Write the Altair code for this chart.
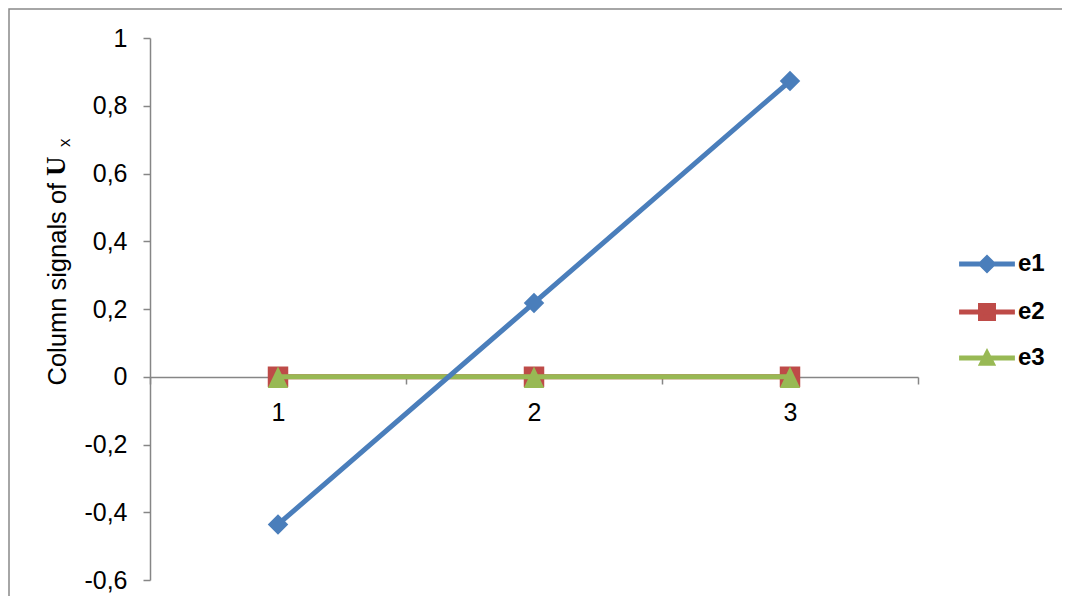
import altair as alt
import pandas as pd

# ---- data ----
categories = [1, 2, 3]
e1_values = [-0.436, 0.218, 0.873]
e2_values = [0.0, 0.0, 0.0]
e3_values = [0.0, 0.0, 0.0]
series_names = ["e1", "e2", "e3"]
series_colors = ["#4A7EBB", "#BE4B48", "#98B954"]
y_tick_values = [-0.6, -0.4, -0.2, 0, 0.2, 0.4, 0.6, 0.8, 1]
x_tick_values = [0.5, 1, 1.5, 2, 2.5, 3, 3.5]

rows = []
for name, vals in zip(series_names, [e1_values, e2_values, e3_values]):
    for c, v in zip(categories, vals):
        rows.append({"series": name, "x": c, "value": v})
df = pd.DataFrame(rows)

FONT = "Liberation Sans"
GRAY = "#868686"

x_enc = alt.X(
    "x:Q",
    scale=alt.Scale(domain=[0.5, 3.5], nice=False, zero=False),
    axis=alt.Axis(
        values=x_tick_values,
        labelExpr="datum.value % 1 == 0 ? toString(datum.value) : ''",
        tickOpacity={"condition": {"test": "datum.value % 1 == 0", "value": 0}, "value": 1},
        offset=-203,
        title=None,
        grid=False,
        tickSize=7,
        tickWidth=1.5,
        tickColor=GRAY,
        domainColor=GRAY,
        domainWidth=1.5,
        labelFont=FONT,
        labelFontSize=25,
        labelColor="black",
        labelPadding=16,
        labelOverlap=False,
        labelFlush=False,
        zindex=0,
    ),
)
y_enc = alt.Y(
    "value:Q",
    scale=alt.Scale(domain=[-0.6, 1], nice=False, zero=False),
    axis=alt.Axis(
        values=y_tick_values,
        labelExpr="replace(toString(datum.value), '.', ',')",
        grid=False,
        tickSize=7,
        tickWidth=1.5,
        tickColor=GRAY,
        domainColor=GRAY,
        domainWidth=1.5,
        labelFont=FONT,
        labelFontSize=25,
        labelColor="black",
        labelPadding=16,
        labelOverlap=False,
        labelFlush=False,
        title="Column signals of",
        titleFont=FONT,
        titleFontSize=25.5,
        titleFontWeight="normal",
        titleColor="black",
        titleAngle=270,
        titleX=-85,
        titleY=347,
        titleAlign="left",
        titleBaseline="alphabetic",
        zindex=0,
    ),
)

base = alt.Chart(df)

def series_layers(name, color, shape):
    sub = base.transform_filter(alt.datum.series == name)
    line = sub.mark_line(color=color, strokeWidth=5).encode(x=x_enc, y=y_enc)
    pts = sub.mark_point(shape=shape, filled=True, size=420, color=color, opacity=1).encode(x=x_enc, y=y_enc)
    return [line, pts]

tri_path = "M0,-1L1,1.1H-1Z"
layers = []

border = alt.Chart(pd.DataFrame({"b": [0]})).mark_rect(
    fill="transparent", stroke="#898989", strokeWidth=1.5
).encode(x=alt.value(-141), x2=alt.value(2000), y=alt.value(-29), y2=alt.value(2000))
layers.append(border)

layers += series_layers("e2", series_colors[1], "square")
layers += series_layers("e3", series_colors[2], tri_path)
layers += series_layers("e1", series_colors[0], "diamond")

legend_paths = [
    "M-3.1,0H3.1M0,-0.67L0.67,0L0,0.67L-0.67,0Z",
    "M-3.1,0H3.1M-0.72,-0.72H0.72V0.72H-0.72Z",
    "M-3.1,0H3.1M0,-0.5L0.56,0.57H-0.56Z",
]
leg = alt.Legend(
    title=None, orient="none", legendX=825, legendY=214, padding=0,
    labelFont=FONT, labelFontSize=24, labelFontWeight="bold", labelColor="black",
    symbolSize=324, symbolStrokeWidth=5, symbolOpacity=1,
    rowPadding=14, labelOffset=19,
)
legend_layer = alt.Chart(pd.DataFrame({"series": series_names})).mark_point(
    filled=True, opacity=0
).encode(
    shape=alt.Shape("series:N", scale=alt.Scale(domain=series_names, range=legend_paths), legend=leg),
    fill=alt.Fill("series:N", scale=alt.Scale(domain=series_names, range=series_colors), legend=leg),
    stroke=alt.Stroke("series:N", scale=alt.Scale(domain=series_names, range=series_colors), legend=leg),
)
layers.append(legend_layer)

u_text = alt.Chart(pd.DataFrame({"t": ["U"]})).mark_text(
    angle=270, align="left", baseline="alphabetic", font="Liberation Serif",
    fontWeight="bold", fontSize=27, color="black"
).encode(x=alt.value(-85), y=alt.value(138), text="t:N")
x_text = alt.Chart(pd.DataFrame({"t": ["x"]})).mark_text(
    angle=270, align="left", baseline="alphabetic", font=FONT,
    fontSize=17, color="black"
).encode(x=alt.value(-80), y=alt.value(109), text="t:N")
layers += [u_text, x_text]

chart = alt.layer(*layers).properties(
    width=768,
    height=542,
    autosize=alt.AutoSizeParams(type="none"),
    padding={"left": 142, "top": 30, "right": 144, "bottom": 16},
    background="white",
).configure_view(strokeWidth=0)

chart.save("out.html", embed_options={"renderer": "svg", "actions": False})
